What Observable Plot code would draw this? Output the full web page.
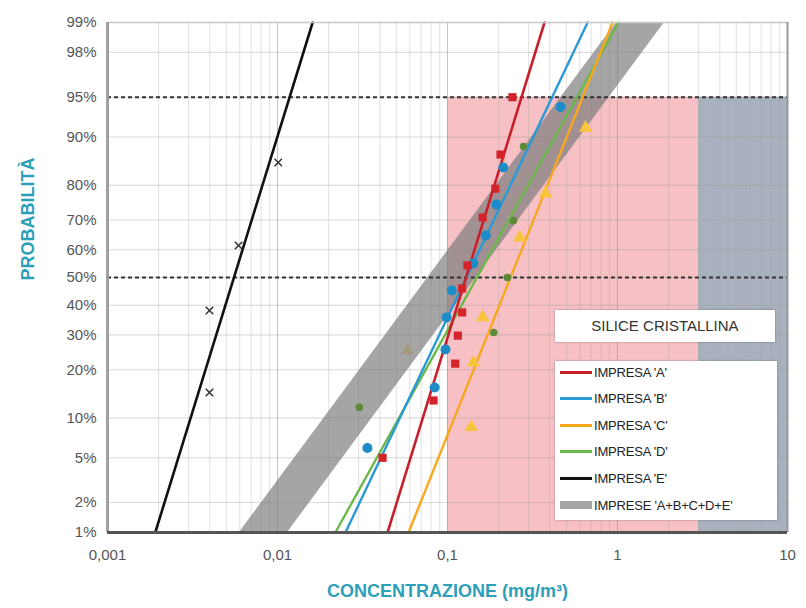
<!DOCTYPE html>
<html>
<head>
<meta charset="utf-8">
<script src="https://cdn.jsdelivr.net/npm/d3@7"></script>
<script src="https://cdn.jsdelivr.net/npm/@observablehq/plot@0.6"></script>
<style>
  html, body { margin: 0; padding: 0; background: #fff; }
  #wrap { position: relative; width: 806px; height: 608px; font-family: "Liberation Sans", Arial, sans-serif; }
  .box { position: absolute; background: #fff; box-shadow: 0 0 2px rgba(0,0,0,0.35); }
  .title { left: 555px; top: 310px; width: 220px; height: 32px; text-align: center; line-height: 32px; font-size: 15px; color: #333; }
  .legend { left: 555px; top: 361px; width: 222px; height: 159px; }
  .row { position: absolute; left: 5px; height: 16px; display: flex; align-items: center; font-family: "Liberation Sans Narrow", "Liberation Sans", Arial, sans-serif; font-size: 13px; color: #222; letter-spacing: -0.2px; }
  .sw { width: 32px; margin-right: 2px; }
</style>
</head>
<body>
<div id="wrap"></div>
<script>
// ---------- data ----------
const yTickPct = [1, 2, 5, 10, 20, 30, 40, 50, 60, 70, 80, 90, 95, 98, 99];
const xTicks = [0.001, 0.01, 0.1, 1, 10];
const xTickLabels = ["0,001", "0,01", "0,1", "1", "10"];
const refLinesPct = [95, 50];

// zones (concentration ranges) up to 95%
const zoneStart = [0.1, 3];
const zoneEnd = [3, 10];
const zoneTopPct = 95;

// Impresa A (red)
const pA = [95, 86.9, 79.1, 70.8, 54.4, 46.0, 37.5, 29.8, 21.6, 13.1, 5.0];
const cA = [0.241, 0.205, 0.191, 0.161, 0.131, 0.122, 0.122, 0.115, 0.111, 0.0828, 0.0415];
// Impresa B (blue)
const pB = [94.0, 84.2, 74.7, 64.9, 55.1, 45.3, 35.8, 25.6, 15.8, 6.0];
const cB = [0.462, 0.213, 0.194, 0.168, 0.142, 0.106, 0.0987, 0.0973, 0.084, 0.0338];
// Impresa C (yellow)
const pC = [91.4, 77.8, 64.2, 35.8, 21.9, 8.6];
const cC = [0.649, 0.377, 0.266, 0.161, 0.142, 0.138];
const pCfaint = [25.3];
const cCfaint = [0.0582];
// Impresa D (green)
const pD = [88.4, 69.8, 50.0, 30.8, 11.8];
const cD = [0.280, 0.244, 0.225, 0.187, 0.0303];
// Impresa E (black)
const pE = [85.3, 61.5, 38.2, 14.7];
const cE = [0.0101, 0.0059, 0.00398, 0.00398];

// fitted lines: concentration at 1% and 99%
const fitPct = [1, 99];
const fitA = [0.0444, 0.372];
const fitB = [0.0251, 0.667];
const fitC = [0.0590, 0.935];
const fitD = [0.0219, 1.014];
const fitE = [0.00191, 0.0161];
// combined band (A+B+C+D+E): centre at 1% and 99%, half-width factor
const bandCentre = [0.00828, 1.365];
const bandFactor = 1.385;

const colors = {A: "#c8202a", B: "#2a9ad6", C: "#f8a81e", D: "#6cb84a", E: "#111111"};
const ptColors = {A: "#d4232b", B: "#1b8cc7", C: "#f8c43a", D: "#5d8a3a", E: "#333333"};

// ---------- probit transform ----------
function probit(p) {
  const a=[-3.969683028665376e+01,2.209460984245205e+02,-2.759285104469687e+02,1.383577518672690e+02,-3.066479806614716e+01,2.506628277459239e+00];
  const b=[-5.447609879822406e+01,1.615858368580409e+02,-1.556989798598866e+02,6.680131188771972e+01,-1.328068155288572e+01];
  const c=[-7.784894002430293e-03,-3.223964580411365e-01,-2.400758277161838e+00,-2.549732539343734e+00,4.374664141464968e+00,2.938163982698783e+00];
  const d=[7.784695709041462e-03,3.224671290700398e-01,2.445134137142996e+00,3.754408661907416e+00];
  const pl = 0.02425, ph = 1 - pl;
  let q, r;
  if (p < pl) { q = Math.sqrt(-2*Math.log(p)); return (((((c[0]*q+c[1])*q+c[2])*q+c[3])*q+c[4])*q+c[5])/((((d[0]*q+d[1])*q+d[2])*q+d[3])*q+1); }
  if (p <= ph) { q = p - 0.5; r = q*q; return (((((a[0]*r+a[1])*r+a[2])*r+a[3])*r+a[4])*r+a[5])*q/(((((b[0]*r+b[1])*r+b[2])*r+b[3])*r+b[4])*r+1); }
  q = Math.sqrt(-2*Math.log(1-p)); return -(((((c[0]*q+c[1])*q+c[2])*q+c[3])*q+c[4])*q+c[5])/((((d[0]*q+d[1])*q+d[2])*q+d[3])*q+1);
}
const z = pct => probit(pct / 100);

const tickZ = yTickPct.map(z);
const zLabel = new Map(tickZ.map((v, i) => [v, yTickPct[i] + "%"]));
const xLabel = new Map(xTicks.map((v, i) => [v, xTickLabels[i]]));

const pts = (c, p) => c.map((v, i) => ({x: v, y: z(p[i])}));
const fit = f => f.map((v, i) => ({x: v, y: z(fitPct[i])}));

const minorX = [];
for (let e = -3; e < 1; e++) for (let m = 2; m <= 9; m++) minorX.push(m * Math.pow(10, e));

const zones = zoneStart.map((s, i) => ({x1: s, x2: zoneEnd[i], y1: z(1), y2: z(zoneTopPct)}));
const band = bandCentre.map((c, i) => ({x1: c / bandFactor, x2: c * bandFactor, y: z(fitPct[i])}));

const teal = "#2d9fb8";

const chart = Plot.plot({
  width: 806,
  height: 608,
  marginLeft: 107,
  marginRight: 19,
  marginTop: 22,
  marginBottom: 76,
  style: {fontFamily: "'Liberation Sans', Arial, sans-serif", background: "transparent"},
  x: {type: "log", domain: [0.001, 10]},
  y: {type: "linear", domain: [z(1), z(99)]},
  marks: [
    Plot.rect(zones.slice(0, 1), {x1: "x1", x2: "x2", y1: "y1", y2: "y2", fill: "#f6c0c4"}),
    Plot.rect(zones.slice(1), {x1: "x1", x2: "x2", y1: "y1", y2: "y2", fill: "#a8b1bd"}),
    Plot.ruleX(minorX, {stroke: "#9a9a9a", strokeOpacity: 0.3, strokeWidth: 1}),
    Plot.ruleX(xTicks, {stroke: "#8a8a8a", strokeOpacity: 0.5, strokeWidth: 1}),
    Plot.ruleY(tickZ, {stroke: "#9a9a9a", strokeOpacity: 0.4, strokeWidth: 1}),
    Plot.dot(pts(cCfaint, pCfaint), {x: "x", y: "y", symbol: "triangle", r: 5, fill: ptColors.C, fillOpacity: 0.6}),
    Plot.areaX(band, {x1: "x1", x2: "x2", y: "y", fill: "#7a7a7a", fillOpacity: 0.68}),
    Plot.ruleY(refLinesPct.map(z), {stroke: "#333", strokeWidth: 2, strokeDasharray: "4,3"}),
    Plot.line(fit(fitE), {x: "x", y: "y", stroke: colors.E, strokeWidth: 2.6}),
    Plot.line(fit(fitD), {x: "x", y: "y", stroke: colors.D, strokeWidth: 2.4}),
    Plot.line(fit(fitC), {x: "x", y: "y", stroke: colors.C, strokeWidth: 2.4}),
    Plot.line(fit(fitB), {x: "x", y: "y", stroke: colors.B, strokeWidth: 2.4}),
    Plot.line(fit(fitA), {x: "x", y: "y", stroke: colors.A, strokeWidth: 2.6}),
    Plot.dot(pts(cE, pE), {x: "x", y: "y", symbol: "times", r: 3.5, stroke: ptColors.E, strokeWidth: 1.5}),
    Plot.dot(pts(cD, pD), {x: "x", y: "y", symbol: "circle", r: 3.8, fill: ptColors.D}),
    Plot.dot(pts(cC, pC), {x: "x", y: "y", symbol: "triangle", r: 5, fill: ptColors.C}),
    Plot.dot(pts(cB, pB), {x: "x", y: "y", symbol: "circle", r: 5, fill: ptColors.B}),
    Plot.dot(pts(cA, pA), {x: "x", y: "y", symbol: "square", r: 4.6, fill: ptColors.A}),
    // frame
    Plot.ruleY([z(99)], {stroke: "#c8c8c8", strokeWidth: 1.5}),
    Plot.ruleX([10], {stroke: "#999", strokeWidth: 2}),
    Plot.ruleX([0.001], {stroke: "#a0a0a0", strokeWidth: 3}),
    Plot.ruleY([z(1)], {stroke: "#555", strokeWidth: 3}),
    // axes
    Plot.axisY(tickZ, {tickSize: 0, tickPadding: 11, tickFormat: d => zLabel.get(d), fontSize: 15, fill: "#555", label: null}),
    Plot.axisX(xTicks, {tickSize: 0, tickPadding: 17, tickFormat: d => xLabel.get(d), fontSize: 15, fill: "#555", label: null}),
    Plot.text(["CONCENTRAZIONE (mg/m³)"], {frameAnchor: "bottom", dy: 64, fontSize: 18, fontWeight: "bold", fill: teal}),
    Plot.text(["PROBABILITÀ"], {frameAnchor: "left", dx: -79, dy: 3, rotate: -90, fontSize: 18, fontWeight: "bold", fill: teal})
  ]
});

const wrap = document.getElementById("wrap");
wrap.appendChild(chart);

// legend (HTML overlay)
const legendItems = [
  {label: "IMPRESA 'A'", color: colors.A, h: 3},
  {label: "IMPRESA 'B'", color: colors.B, h: 3},
  {label: "IMPRESA 'C'", color: colors.C, h: 3},
  {label: "IMPRESA 'D'", color: colors.D, h: 3},
  {label: "IMPRESA 'E'", color: colors.E, h: 3},
  {label: "IMPRESE 'A+B+C+D+E'", color: "#a3a3a3", h: 8}
];
const title = document.createElement("div");
title.className = "box title";
title.textContent = "SILICE CRISTALLINA";
wrap.appendChild(title);
const leg = document.createElement("div");
leg.className = "box legend";
legendItems.forEach((it, i) => {
  const row = document.createElement("div");
  row.className = "row";
  row.style.top = (3 + i * 26.6) + "px";
  const sw = document.createElement("span");
  sw.className = "sw";
  sw.style.height = it.h + "px";
  sw.style.background = it.color;
  row.appendChild(sw);
  const t = document.createElement("span");
  t.textContent = it.label;
  row.appendChild(t);
  leg.appendChild(row);
});
wrap.appendChild(leg);
</script>
</body>
</html>
